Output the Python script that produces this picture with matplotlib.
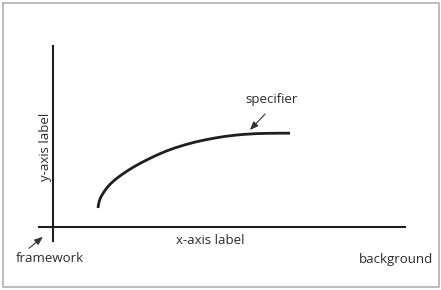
import matplotlib
matplotlib.use("Agg")
import matplotlib.pyplot as plt

# Curve (pixel-like coordinates, y downwards)
curve_x = [98, 98.5, 99.3, 100.5, 102, 104, 106.5, 110, 114, 118, 122, 126, 130, 135, 141,
           147, 153, 160, 167, 175, 185, 195, 205, 215, 225, 235, 245, 257, 270, 280, 290]
curve_y = [208, 204.5, 201, 197.8, 195, 191.8, 188.4, 184.3, 180.6, 177.4, 174.5, 171.8,
           169.2, 166.2, 162.9, 159.8, 156.9, 153.7, 150.8, 147.9, 144.8, 142.1, 139.9,
           138.0, 136.4, 135.2, 134.3, 133.6, 133.3, 133.2, 133.2]

labels = {
    "specifier": (272, 100),
    "y-axis label": (45, 147),
    "x-axis label": (210, 241),
    "framework": (50, 259),
    "background": (396, 260),
}

W, H = 441, 290
fig = plt.figure(figsize=(W / 100, H / 100), dpi=100)
ax = fig.add_axes([0, 0, 1, 1])
ax.set_xlim(0, W)
ax.set_ylim(H, 0)
ax.axis("off")

ink = "#1e1e1e"
family = ["Open Sans", "DejaVu Sans"]

# outer frame
ax.plot([2.5, 438.5, 438.5, 2.5, 2.5], [2.5, 2.5, 287, 287, 2.5], color="#b0b0b0", lw=1.2)

# axes lines
ax.plot([53, 53], [45, 242], color=ink, lw=1.5, solid_capstyle="butt")
ax.plot([38, 406], [227, 227], color=ink, lw=1.5, solid_capstyle="butt")

# curve
ax.plot(curve_x, curve_y, color=ink, lw=2.0, solid_capstyle="butt", solid_joinstyle="round")

fs = 9.5
for txt, (x, y) in labels.items():
    rot = 90 if txt == "y-axis label" else 0
    ax.text(x, y, txt, ha="center", va="center", fontsize=fs, color="#2a2a2a",
            rotation=rot, family=family)

arrow = dict(arrowstyle="-|>,head_length=0.5,head_width=0.2", color="#333333", lw=0.8)
ax.annotate("", xy=(248, 132), xytext=(267, 112), arrowprops=arrow)
ax.annotate("", xy=(45, 235), xytext=(27, 250), arrowprops=arrow)

fig.savefig("out.png", dpi=100)
